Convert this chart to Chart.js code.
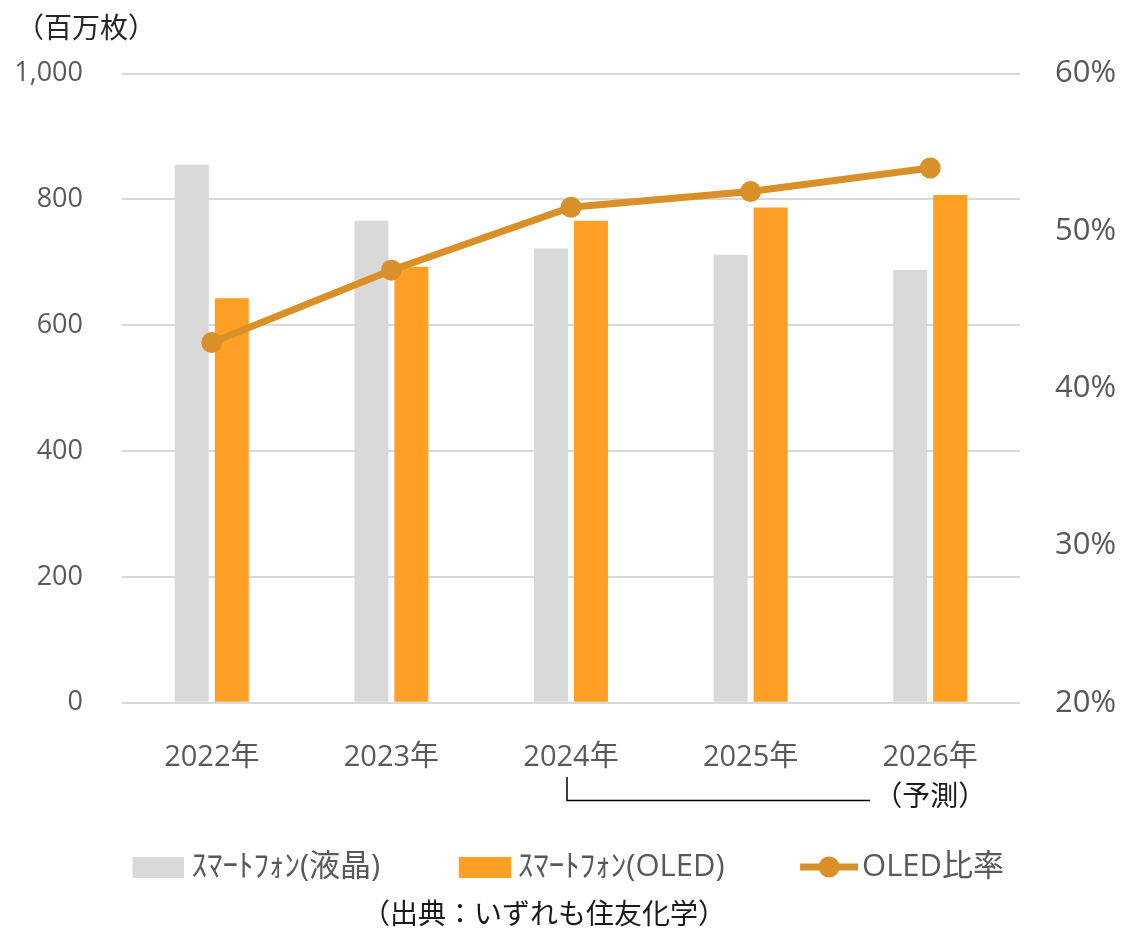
<!DOCTYPE html>
<html>
<head>
<meta charset="utf-8">
<script src="https://cdn.jsdelivr.net/npm/chart.js@4"></script>
<style>
  body{ margin:0; background:#fff; }
  #wrap{ width:1122px; height:930px; }
</style>
</head>
<body>
<div id="wrap"><canvas id="chart" width="1122" height="930"></canvas></div>
<script>
// data
const categories = ["2022年", "2023年", "2024年", "2025年", "2026年"];
const lcdUnits  = [855, 766, 722, 712, 688];   // 百万枚
const oledUnits = [643, 693, 766, 787, 807];   // 百万枚
const oledShare = [42.9, 47.5, 51.5, 52.5, 54.0]; // %
const leftTicks  = [0, 200, 400, 600, 800, 1000];
const rightTicks = [20, 30, 40, 50, 60];
const seriesNames = ["ｽﾏｰﾄﾌｫﾝ(液晶)", "ｽﾏｰﾄﾌｫﾝ(OLED)", "OLED比率"];

const GRAY = "#d9d9d9", ORANGE = "#ffa024", LINE = "#da9029";
const TXT = "#595959";
const FONT = '"Open Sans", "Noto Sans CJK JP", sans-serif';
const CJK = '"Noto Sans CJK JP", sans-serif';

Chart.defaults.font.family = FONT;
Chart.defaults.color = TXT;

// legend symbols as small canvases (visible part sits at the right of the box)
function rectSymbol(color){
  const c = document.createElement("canvas");
  c.width = 59; c.height = 21;
  const g = c.getContext("2d");
  g.fillStyle = color;
  g.fillRect(7, 0, 52, 21);
  return c;
}
function lineSymbol(color){
  const c = document.createElement("canvas");
  c.width = 65; c.height = 24;
  const g = c.getContext("2d");
  g.strokeStyle = color; g.lineWidth = 7;
  g.beginPath(); g.moveTo(7, 12); g.lineTo(65, 12); g.stroke();
  g.fillStyle = color;
  g.beginPath(); g.arc(36, 12, 10.5, 0, Math.PI*2); g.fill();
  return c;
}
const symbols = [rectSymbol(GRAY), rectSymbol(ORANGE), lineSymbol(LINE)];

// (予測) bracket + source note
const notes = {
  id: "notes",
  afterDraw(chart){
    const {ctx, scales:{x}} = chart;
    const x0 = x.getPixelForValue(2) - 4;
    const x1 = x.getPixelForValue(4) - 60;
    ctx.save();
    ctx.strokeStyle = "#000"; ctx.lineWidth = 1.5;
    ctx.beginPath();
    ctx.moveTo(x0, 777); ctx.lineTo(x0, 800.5); ctx.lineTo(x1, 800.5);
    ctx.stroke();
    ctx.fillStyle = "#1a1a1a";
    ctx.font = "28px " + CJK;
    ctx.textAlign = "center"; ctx.textBaseline = "middle";
    ctx.fillText("（予測）", x.getPixelForValue(4), 795);
    ctx.fillText("（出典：いずれも住友化学）", 544, 913);
    ctx.restore();
  }
};

new Chart(document.getElementById("chart"), {
  type: "bar",
  data: {
    labels: categories,
    datasets: [
      { label: seriesNames[0], data: lcdUnits, backgroundColor: GRAY, borderWidth: 0,
        categoryPercentage: 0.445, barPercentage: 0.85, yAxisID: "y", order: 1 },
      { label: seriesNames[1], data: oledUnits, backgroundColor: ORANGE, borderWidth: 0,
        categoryPercentage: 0.445, barPercentage: 0.85, yAxisID: "y", order: 1 },
      { type: "line", label: seriesNames[2], data: oledShare, borderColor: LINE, backgroundColor: LINE,
        borderWidth: 7, pointRadius: 10.5, pointBorderWidth: 0, pointBackgroundColor: LINE,
        tension: 0, yAxisID: "y1", order: 0 }
    ]
  },
  options: {
    responsive: false,
    animation: false,
    layout: { padding: { left: 16, right: 0, top: 11, bottom: 37.5 } },
    plugins: {
      title: {
        display: true, text: "（百万枚）", align: "start", color: "#262626",
        font: { size: 28, family: CJK, weight: "normal", lineHeight: 1.2 },
        padding: { top: 0, bottom: 29 }
      },
      legend: {
        position: "bottom",
        labels: {
          usePointStyle: true, pointStyleWidth: 42, boxHeight: 22, padding: 80,
          color: TXT, font: { size: 31 },
          generateLabels(chart){
            return chart.data.datasets.map((ds, i) => ({
              text: ds.label, pointStyle: symbols[i], fillStyle: "transparent",
              strokeStyle: "transparent", lineWidth: 0, fontColor: TXT,
              hidden: false, datasetIndex: i
            }));
          }
        }
      },
      tooltip: { enabled: false }
    },
    scales: {
      x: {
        grid: { display: false }, border: { display: false },
        ticks: { padding: 30, color: TXT, font: { size: 29 } },
        afterFit(s){ s.height = 68.8; }
      },
      y: {
        position: "left", min: 0, max: 1000,
        afterBuildTicks(s){ s.ticks = leftTicks.map(v => ({ value: v })); },
        grid: { color: GRAY, lineWidth: 2, drawTicks: false }, border: { display: false },
        ticks: { padding: 39, color: TXT, font: { size: 27 },
          callback: v => v.toLocaleString("en-US") },
        afterFit(s){ s.width = 106; }
      },
      y1: {
        position: "right", min: 20, max: 60,
        afterBuildTicks(s){ s.ticks = rightTicks.map(v => ({ value: v })); },
        grid: { display: false, drawTicks: false }, border: { display: false },
        ticks: { padding: 35, color: TXT, font: { size: 31 }, callback: v => v + "%" },
        afterFit(s){ s.width = 102; }
      }
    }
  },
  plugins: [notes]
});
</script>
</body>
</html>
